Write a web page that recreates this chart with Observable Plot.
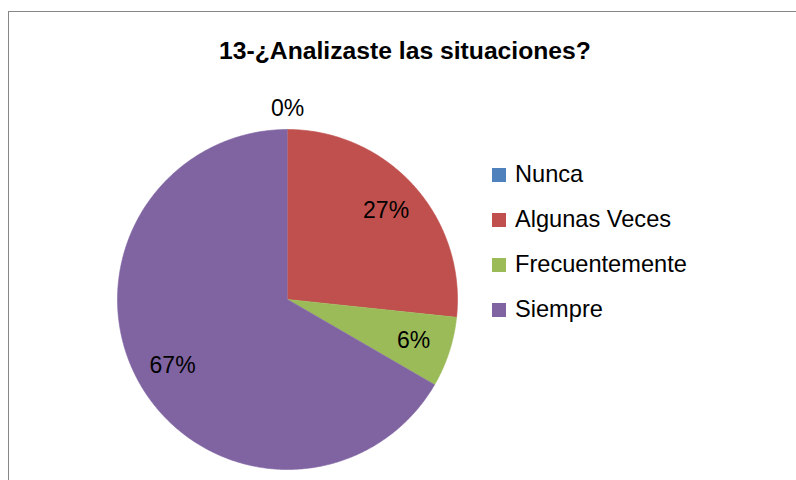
<!DOCTYPE html>
<html>
<head>
<meta charset="utf-8">
<script src="https://cdn.jsdelivr.net/npm/d3@7"></script>
<script src="https://cdn.jsdelivr.net/npm/@observablehq/plot@0.6"></script>
<style>
  html, body { margin: 0; padding: 0; background: #fff; }
  #wrap { position: relative; width: 796px; height: 480px; overflow: hidden; font-family: "Liberation Sans", Arial, sans-serif; }
  #frame { position: absolute; left: 8px; top: 11px; width: 800px; height: 480px; border-left: 1.5px solid #878787; border-top: 1.5px solid #878787; box-sizing: border-box; }
  #title { position: absolute; left: 0; top: 39px; width: 810px; text-align: center; font-weight: bold; font-size: 24.7px; line-height: 24.7px; color: #000; white-space: nowrap; }
  #chart { position: absolute; left: 0; top: 0; }
  .sw { position: absolute; width: 14px; height: 14px; }
  .lt { position: absolute; font-size: 23.6px; line-height: 23.6px; color: #000; white-space: nowrap; }
</style>
</head>
<body>
<div id="wrap">
  <div id="frame"></div>
  <div id="chart"></div>
  <div id="title"></div>
</div>
<script>
const title = "13-¿Analizaste las situaciones?";
const categories = ["Nunca", "Algunas Veces", "Frecuentemente", "Siempre"];
const values = [0, 26.7, 6.7, 66.7];
const labels = ["0%", "27%", "6%", "67%"];
const colors = ["#4F81BD", "#C0504D", "#9BBB59", "#8064A2"];

const arcs = d3.pie().sort(null).value(d => d)(values);

// polygon points for each slice (unit circle, clockwise from 12 o'clock)
const slicePts = [];
arcs.forEach((a, i) => {
  if (a.endAngle - a.startAngle <= 0) return;
  const cat = categories[i];
  slicePts.push({cat, x: 0, y: 0});
  const n = Math.max(2, Math.ceil((a.endAngle - a.startAngle) / (Math.PI / 360)));
  for (let k = 0; k <= n; k++) {
    const t = a.startAngle + (a.endAngle - a.startAngle) * k / n;
    slicePts.push({cat, x: Math.sin(t), y: Math.cos(t)});
  }
});

const labelPts = arcs.map((a, i) => {
  const mid = (a.startAngle + a.endAngle) / 2;
  const r = values[i] > 0 ? 0.78 : 1.12;
  return {x: r * Math.sin(mid), y: r * Math.cos(mid), label: labels[i]};
});

const chart = Plot.plot({
  width: 796,
  height: 480,
  marginLeft: 117,
  marginRight: 339,
  marginTop: 129,
  marginBottom: 11,
  x: {domain: [-1, 1], axis: null},
  y: {domain: [-1, 1], axis: null},
  color: {domain: categories, range: colors},
  style: {fontFamily: "Liberation Sans, Arial, sans-serif", background: "transparent"},
  marks: [
    Plot.line(slicePts, {x: "x", y: "y", z: "cat", fill: "cat", stroke: "cat", strokeWidth: 0.6}),
    Plot.text(labelPts, {x: "x", y: "y", text: "label", fontSize: 23, fill: "#000"})
  ]
});
document.getElementById("chart").appendChild(chart);
document.getElementById("title").textContent = title;

// legend
const wrap = document.getElementById("wrap");
categories.forEach((c, i) => {
  const cy = 175.3 + 44.9 * i;
  const sw = document.createElement("div");
  sw.className = "sw";
  sw.style.left = "492px";
  sw.style.top = (cy - 7) + "px";
  sw.style.background = colors[i];
  wrap.appendChild(sw);
  const t = document.createElement("div");
  t.className = "lt";
  t.style.left = "515px";
  t.style.top = (cy - 1 - 11.5) + "px";
  t.textContent = c;
  wrap.appendChild(t);
});
</script>
</body>
</html>
